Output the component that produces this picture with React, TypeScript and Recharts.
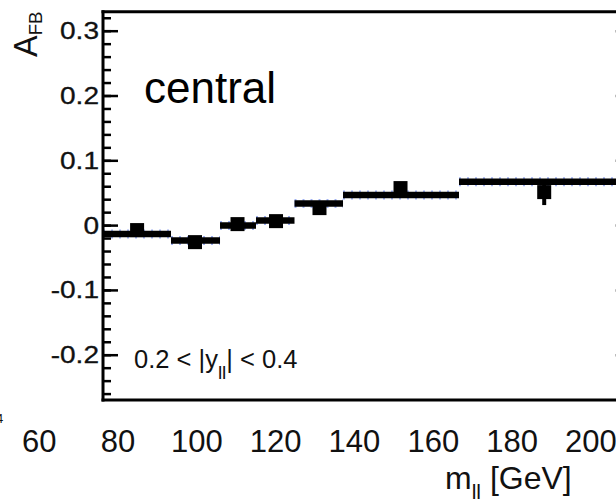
import React from 'react';
import { ComposedChart, Line, Scatter, ErrorBar, XAxis, YAxis, Label } from 'recharts';

// theory prediction bins (x read against the printed tick labels, GeV)
const binLow = [76.2, 93.44, 105.88, 115.01, 124.78, 137.09, 166.52];
const binHigh = [93.44, 105.88, 115.01, 124.78, 137.09, 166.52, 209.9];
const binAfb = [-0.0131, -0.0231, 0.0, 0.008, 0.0343, 0.0471, 0.0677];

// measured points
const dataMass = [84.84, 99.53, 110.32, 120.09, 131.12, 151.68, 188.14];
const dataAfb = [-0.0069, -0.0255, 0.0023, 0.0069, 0.027, 0.0579, 0.0517];
const dataErr = [0.008, 0.009, 0.008, 0.008, 0.009, 0.009, 0.02];

// axis labels and frame ticks
const xLabels = [60, 80, 100, 120, 140, 160, 180, 200];
const xMajor = [80, 100, 120, 140, 160, 180, 200];
const xMinor = [70, 75, 80, 85, 90, 95, 100, 105, 110, 115, 120, 125, 130, 135, 140, 145, 150, 155, 160, 165, 170, 175, 180, 185, 190, 195, 200, 205, 210, 215];
const yMajor = [-0.2, -0.1, 0, 0.1, 0.2, 0.3];
const yMinor = [-0.26, -0.24, -0.22, -0.2, -0.18, -0.16, -0.14, -0.12, -0.1, -0.08, -0.06, -0.04, -0.02, 0, 0.02, 0.04, 0.06, 0.08, 0.1, 0.12, 0.14, 0.16, 0.18, 0.2, 0.22, 0.24, 0.26, 0.28, 0.3, 0.32];

const points = dataMass.map((m, i) => ({ x: m, y: dataAfb[i], err: dataErr[i] }));

const FONT = '"Liberation Sans", Arial, sans-serif';
const xDomain = [76.19, 209.91];
const frameDomain = [66, 219.4];
const yDomain = [-0.2691, 0.3301];
const tickStyle = { stroke: '#000', strokeWidth: 2.5 };
const lineStyle = { stroke: '#000', strokeWidth: 3, strokeLinecap: 'square' as const };
const THIN = 0.01; // axes take no room, but must be > 0 to be drawn
const noLabel = () => <g />; // keeps tick lines, draws no text

const XTick = (props: any) => {
  const { x, y, payload } = props;
  return (
    <text x={x} y={y + 52} textAnchor="middle" fontSize={31} fontFamily={FONT} fill="#111">
      {payload.value}
    </text>
  );
};

const YTick = (props: any) => {
  const { x, y, payload } = props;
  return (
    <text
      transform={`translate(${x - 4},${y + 8}) scale(1.22,1)`}
      textAnchor="end"
      fontSize={23}
      fontFamily={FONT}
      fill="#111"
      stroke="#111"
      strokeWidth={0.3}
    >
      {String(payload.value)}
    </text>
  );
};

const Texts = () => (
  <g fontFamily={FONT}>
    <text x={144} y={103.3} fontSize={44} fill="#000">central</text>
    <text x={134} y={368.3} fontSize={25.5} fill="#111">
      0.2 &lt; |y<tspan fontSize={19} dy={11}>ll</tspan>
      <tspan dy={-11}>| &lt; 0.4</tspan>
    </text>
    <text transform="translate(36.7,57) rotate(-90)" fontSize={32.5} fill="#111">
      A<tspan fontSize={18.6} dy={5}>FB</tspan>
    </text>
    <text x={445} y={489} fontSize={32} fill="#111">
      m<tspan fontSize={21} dy={10}>ll</tspan>
      <tspan dy={-10}> [GeV]</tspan>
    </text>
    <text x={-4} y={423} fontSize={13} fill="#111">4</text>
  </g>
);

const Square = (props: any) => (
  <rect x={props.cx - 7} y={props.cy - 7} width={14} height={14} fill="#000" />
);

export default function App() {
  return (
    <div style={{ position: 'absolute', left: 0, top: 0, width: 616, height: 503, overflow: 'hidden', background: '#fff' }}>
      <ComposedChart width={642} height={503} margin={{ top: 11.7, right: 12, bottom: 103, left: 103 }}>
        <XAxis
          xAxisId="x"
          dataKey="x"
          type="number"
          domain={xDomain}
          allowDataOverflow
          ticks={xLabels}
          interval={0}
          height={THIN}
          tickLine={false}
          axisLine={false}
          tickSize={0}
          tickMargin={0}
          tick={(p: any) => <XTick {...p} />}
        >
          <Label content={() => <Texts />} />
        </XAxis>
        <XAxis xAxisId="xb1" type="number" domain={frameDomain} allowDataOverflow ticks={xMajor} interval={0} height={THIN} mirror tick={noLabel} tickSize={12.5} stroke="#000" tickLine={tickStyle} axisLine={lineStyle} />
        <XAxis xAxisId="xb2" type="number" domain={frameDomain} allowDataOverflow ticks={xMinor} interval={0} height={THIN} mirror tick={noLabel} tickSize={6.5} stroke="#000" tickLine={tickStyle} axisLine={false} />
        <XAxis xAxisId="xt1" orientation="top" type="number" domain={frameDomain} allowDataOverflow ticks={xMajor} interval={0} height={THIN} mirror tick={noLabel} tickSize={12.5} stroke="#000" tickLine={tickStyle} axisLine={lineStyle} />
        <XAxis xAxisId="xt2" orientation="top" type="number" domain={frameDomain} allowDataOverflow ticks={xMinor} interval={0} height={THIN} mirror tick={noLabel} tickSize={6} stroke="#000" tickLine={tickStyle} axisLine={false} />

        <YAxis
          yAxisId="y"
          type="number"
          domain={yDomain}
          allowDataOverflow
          ticks={yMajor}
          interval={0}
          width={THIN}
          tickLine={false}
          axisLine={false}
          tickSize={0}
          tickMargin={0}
          tick={(p: any) => <YTick {...p} />}
        />
        <YAxis yAxisId="yl1" type="number" domain={yDomain} allowDataOverflow ticks={yMajor} interval={0} width={THIN} mirror tick={noLabel} tickSize={15} stroke="#000" tickLine={tickStyle} axisLine={lineStyle} />
        <YAxis yAxisId="yl2" type="number" domain={yDomain} allowDataOverflow ticks={yMinor} interval={0} width={THIN} mirror tick={noLabel} tickSize={8} stroke="#000" tickLine={tickStyle} axisLine={false} />
        <YAxis yAxisId="yr1" orientation="right" type="number" domain={yDomain} allowDataOverflow ticks={yMajor} interval={0} width={THIN} mirror tick={noLabel} tickSize={15} stroke="#000" tickLine={{ stroke: '#bbb', strokeWidth: 2.5 }} axisLine={lineStyle} />
        <YAxis yAxisId="yr2" orientation="right" type="number" domain={yDomain} allowDataOverflow ticks={yMinor} interval={0} width={THIN} mirror tick={noLabel} tickSize={8} stroke="#000" tickLine={tickStyle} axisLine={false} />

        {binLow.map((lo, i) => (
          <Line
            key={`band-${i}`}
            xAxisId="x"
            yAxisId="y"
            data={[{ x: lo, y: binAfb[i] }, { x: binHigh[i], y: binAfb[i] }]}
            dataKey="y"
            stroke="#9fb0f2"
            strokeWidth={9}
            strokeDasharray="2 6"
            dot={false}
            activeDot={false}
            isAnimationActive={false}
          />
        ))}
        {binLow.map((lo, i) => (
          <Line
            key={`bin-${i}`}
            xAxisId="x"
            yAxisId="y"
            data={[{ x: lo, y: binAfb[i] }, { x: binHigh[i], y: binAfb[i] }]}
            dataKey="y"
            stroke="#000"
            strokeWidth={6.5}
            dot={false}
            activeDot={false}
            isAnimationActive={false}
          />
        ))}
        <Scatter xAxisId="x" yAxisId="y" data={points} dataKey="y" shape={(p: any) => <Square {...p} />} isAnimationActive={false}>
          <ErrorBar dataKey="err" direction="y" width={0} stroke="#000" strokeWidth={4} isAnimationActive={false} />
        </Scatter>
      </ComposedChart>
    </div>
  );
}
